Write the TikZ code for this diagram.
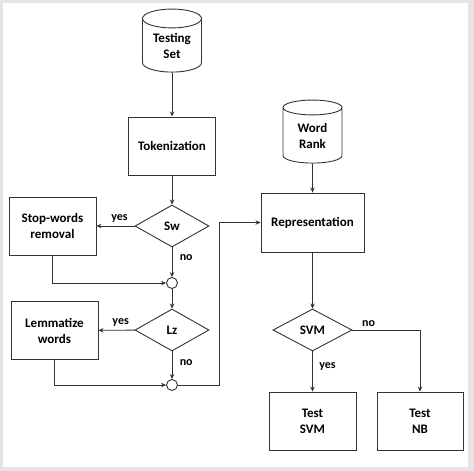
\documentclass[tikz,border=0pt]{standalone}
\usepackage{fontspec}
\setmainfont{Carlito}
\usetikzlibrary{shapes.geometric,arrows.meta}
\tikzset {>={Stealth[length=5pt,width=4.5pt]}}
\tikzset{
  box/.style={draw,minimum width=87pt,minimum height=58pt,align=center,inner sep=0pt},
  dbase/.style={cylinder,draw,shape border rotate=90,aspect=0.5,minimum width=59pt,minimum height=63pt,align=center,inner sep=0pt},
  test/.style={diamond,draw,minimum width=74pt,minimum height=42pt,inner sep=0pt},
  junction/.style={circle,draw,minimum size=11pt,inner sep=0pt},
  lbl/.style={font=\fontsize{12}{14}\selectfont\bfseries}
}

\begin{document}
\begin{tikzpicture}[x=1pt,y=-1pt,line width=.9pt,draw=black!80,
  font=\fontsize{13}{16}\selectfont\bfseries]
\useasboundingbox (0,0) rectangle (474,471);
\fill[black!10] (0,0) rectangle (474,471);
\fill[white] (3,3) rectangle (468,467);
% left column
\node[dbase] (ts) at (172,45.5) {Testing\\Set};
\node[box] (tok) at (172,146) {Tokenization};
\node[test,minimum height=42pt] (sw) at (172,226) {Sw};
\node[box] (stop) at (52.5,226) {Stop-words\\removal};
\node[junction] (c1) at (172,283) {};
\node[test] (lz) at (172,330) {Lz};
\node[box] (lem) at (54.5,330.5) {Lemmatize\\words};
\node[junction] (c2) at (172,385) {};
\coordinate (turn) at (219,222.5);
% right column
\node[dbase] (wr) at (312.5,135.5) {Word\\Rank};
\node[box,minimum width=103pt,minimum height=59pt] (rep) at (312.5,222.5) {Representation};
\node[test,minimum width=79pt] (svm) at (312.5,330) {SVM};
\node[box,minimum width=87pt] (tsvm) at (312.5,421) {Test\\SVM};
\node[box,minimum width=86pt] (tnb) at (420,421) {Test\\NB};
% connectors
\draw[->] (ts) -- (tok);
\draw[->] (tok) -- (sw);
\draw[->] (sw) -- node[lbl,above,xshift=4pt] {yes} (stop);
\draw[->] (sw) -- node[lbl,right,xshift=4pt,pos=.35] {no} (c1);
\draw[->] (stop) |- (c1);
\draw[->] (c1) -- (lz);
\draw[->] (lz) -- node[lbl,above,xshift=4pt] {yes} (lem);
\draw[->] (lz) -- node[lbl,right,xshift=4pt,pos=.4] {no} (c2);
\draw[->] (lem) |- (c2);
\draw[->] (c2) -| (turn) -- (rep);
\draw[->] (wr) -- (rep);
\draw[->] (rep) -- (svm);
\draw[->] (svm) -- node[lbl,right,xshift=3pt,pos=.37] {yes} (tsvm);
\draw[->] (svm) -| node[lbl,above,pos=.12] {no} (tnb);
\end{tikzpicture}
\end{document}
